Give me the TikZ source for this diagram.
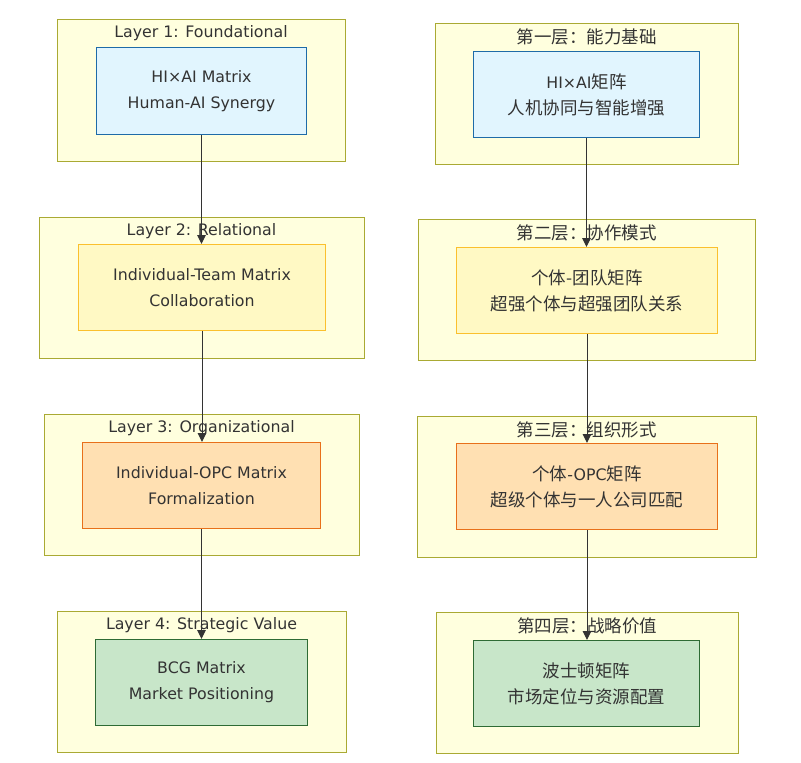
\documentclass[tikz,border=0pt]{standalone}
\usepackage{fontspec}
\setmainfont{DejaVu Sans}
\newfontfamily\cjk{Noto Sans CJK SC}
\usetikzlibrary{arrows.meta}
\definecolor{clfill}{HTML}{FFFFDE}
\definecolor{cldraw}{HTML}{AAAA33}
\definecolor{txt}{HTML}{333333}
\definecolor{bfill}{HTML}{E1F5FE}\definecolor{bdraw}{HTML}{1E6BA8}
\definecolor{yfill}{HTML}{FFF9C4}\definecolor{ydraw}{HTML}{FBC02D}
\definecolor{ofill}{HTML}{FFE0B2}\definecolor{odraw}{HTML}{E8701A}
\definecolor{gfill}{HTML}{C8E6C9}\definecolor{gdraw}{HTML}{2E6B34}
\tikzset{
  cluster/.style={draw=cldraw,fill=clfill,line width=1pt,inner sep=0,anchor=north west},
  clabel/.style={text=txt,font=\fontsize{15.8}{18}\selectfont,anchor=center,inner sep=0},
  cjklabel/.style={clabel,font=\cjk\fontsize{17.5}{20}\selectfont},
  mbox/.style={line width=1pt,inner sep=0,anchor=north west},
  mtext/.style={text=txt,font=\fontsize{15.8}{26}\selectfont,align=center,inner sep=0},
  cjktext/.style={mtext,font=\cjk\fontsize{17.5}{26}\selectfont},
  conn/.style={draw=txt,line width=1pt,-{Triangle[length=9pt,width=8.5pt]}}
}
\newcommand{\lat}[1]{{\rmfamily\fontsize{15.8}{26}\selectfont #1}}
\newcommand{\clus}[7]{% name, x1,y1,x2,y2, label, style
  \node[cluster,minimum width={#4-#2},minimum height={#5-#3}] (#1) at (#2,#3) {};
  \node[#7] (#1t) at ({(#2+#4)/2},{#3+14}) {#6};
}
\newcommand{\mnode}[9]{% name, x1,y1,x2,y2, fill, draw, text, style
  \node[mbox,fill=#6,draw=#7,minimum width={#4-#2},minimum height={#5-#3}] (#1) at (#2,#3) {};
  \node[#9] (#1t) at (#1.center) {#8};
}
\begin{document}
\begin{tikzpicture}[x=1pt,y=-1pt]
\useasboundingbox[fill=white] (0,0) rectangle (801,763);
% left column
\clus{c1}{57}{19}{345}{161}{Layer 1: Foundational}{clabel}
\mnode{a1}{96}{47}{306}{134}{bfill}{bdraw}{HI×AI Matrix\\Human-AI Synergy}{mtext}
\clus{c2}{39}{217}{364}{358}{Layer 2: Relational}{clabel}
\mnode{a2}{78}{244}{325}{330}{yfill}{ydraw}{Individual-Team Matrix\\Collaboration}{mtext}
\clus{c3}{44}{414}{359}{555}{Layer 3: Organizational}{clabel}
\mnode{a3}{82}{442}{320}{528}{ofill}{odraw}{Individual-OPC Matrix\\Formalization}{mtext}
\clus{c4}{57}{611}{346}{752}{Layer 4: Strategic Value}{clabel}
\mnode{a4}{95}{639}{307}{725}{gfill}{gdraw}{BCG Matrix\\Market Positioning}{mtext}
% right column
\clus{d1}{435}{23}{738}{164}{第一层：能力基础}{cjklabel}
\mnode{b1}{473}{51}{699}{137}{bfill}{bdraw}{\lat{HI×AI}矩阵\\人机协同与智能增强}{cjktext}
\clus{d2}{418}{219}{755}{360}{第二层：协作模式}{cjklabel}
\mnode{b2}{456}{247}{717}{333}{yfill}{ydraw}{个体-团队矩阵\\超强个体与超强团队关系}{cjktext}
\clus{d3}{417}{416}{756}{557}{第三层：组织形式}{cjklabel}
\mnode{b3}{456}{443}{717}{529}{ofill}{odraw}{个体\lat{-OPC}矩阵\\超级个体与一人公司匹配}{cjktext}
\clus{d4}{436}{612}{738}{753}{第四层：战略价值}{cjklabel}
\mnode{b4}{473}{640}{699}{726}{gfill}{gdraw}{波士顿矩阵\\市场定位与资源配置}{cjktext}
% connectors
\draw[conn] (a1.south) -- (a1.south |- a2.north);
\draw[conn] (a2.south) -- (a2.south |- a3.north);
\draw[conn] (a3.south) -- (a3.south |- a4.north);
\draw[conn] (b1.south) -- (b1.south |- b2.north);
\draw[conn] (b2.south) -- (b2.south |- b3.north);
\draw[conn] (b3.south) -- (b3.south |- b4.north);
\end{tikzpicture}
\end{document}
